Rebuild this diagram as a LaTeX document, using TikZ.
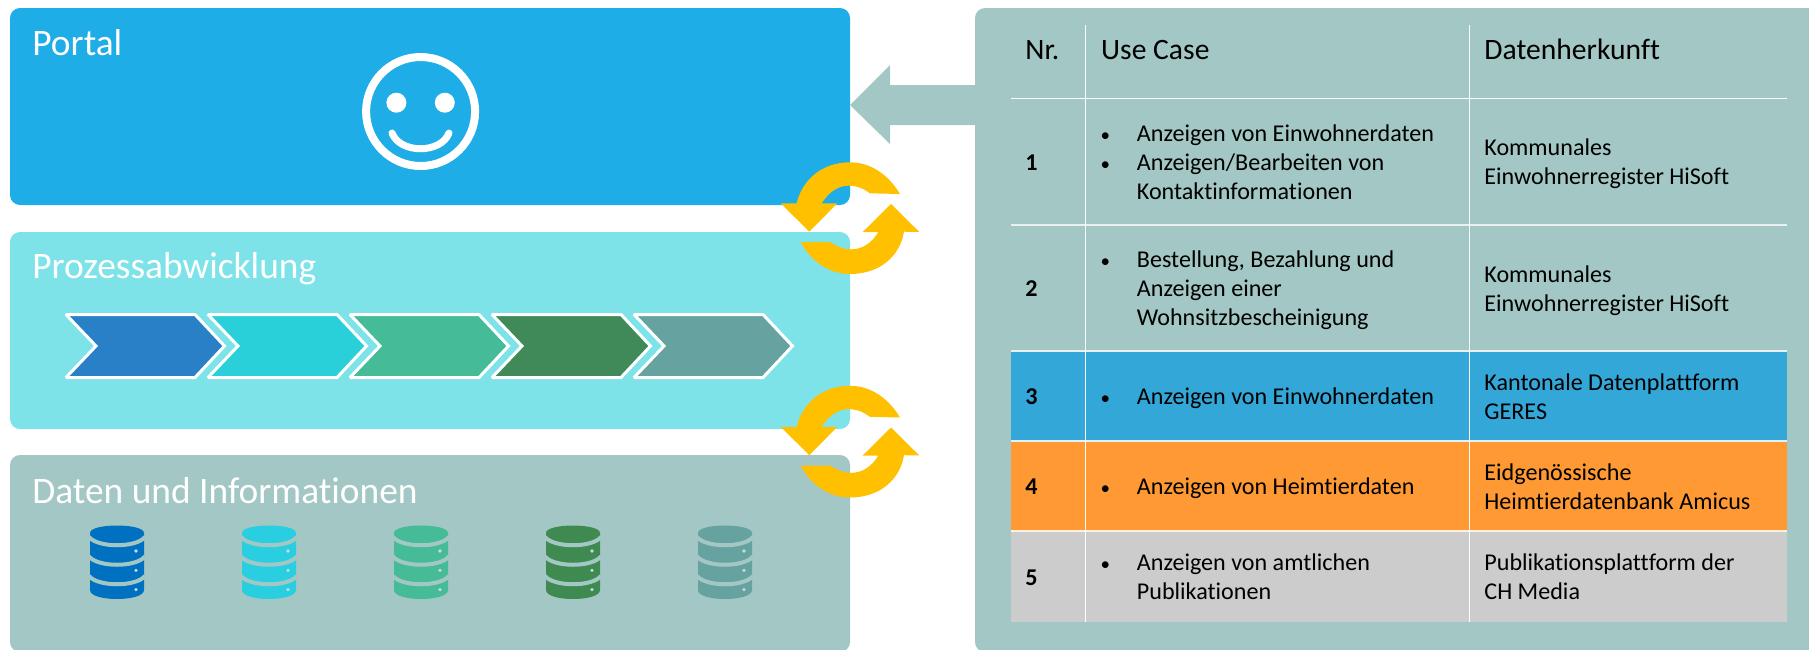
\documentclass[tikz,border=0pt]{standalone}
\usepackage{fontspec}
\setmainfont[Ligatures=NoCommon]{Carlito}
\definecolor{portalblue}{HTML}{1EADE6}
\definecolor{prozesscyan}{HTML}{7EE3E9}
\definecolor{datengrey}{HTML}{A3C7C4}
\definecolor{syncyellow}{HTML}{FFC000}
\definecolor{rowblue}{HTML}{33A7D8}
\definecolor{roworange}{HTML}{FF9933}
\definecolor{rowgrey}{HTML}{CCCCCC}
\tikzset{
	layerbox/.style={rounded corners=5pt},
	title/.style={anchor=base west,inner sep=0pt,text=white,font=\fontsize{18.7}{22}\selectfont},
	head/.style={anchor=base west,inner sep=0pt,font=\fontsize{14.8}{18}\selectfont},
	cell/.style={anchor=base west,inner sep=0pt,align=left,font=\fontsize{12.05}{14.5}\selectfont},
	nr/.style={anchor=base west,inner sep=0pt,font=\fontsize{12.05}{14.5}\selectfont\bfseries},
	grid/.style={draw=white,line width=0.5pt},
}
\newcommand{\bul}{\llap{{\fontsize{9.5}{9.5}\selectfont\textbullet}\hspace{13.4pt}}}
\begin{document}
\begin{tikzpicture}[x=0.5pt,y=-0.5pt]
	\useasboundingbox (0,0) rectangle (1809,649);
	% layers on the left
	\fill[layerbox,portalblue] (10,8) rectangle (850,205);
	\fill[layerbox,prozesscyan] (10,232) rectangle (850,429);
	\fill[layerbox,datengrey] (10,455) rectangle (850,652);
	\node[title] (portal) at (32,55) {Portal};
	\node[title] (prozess) at (32,278) {Prozessabwicklung};
	\node[title] (daten) at (32,503) {Daten und Informationen};
	% smiley
	\draw[white,line width=4pt] (420.6,111.5) circle (27.25pt);
	\fill[white] (396.4,102.7) circle (5pt) (444.8,102.7) circle (5pt);
	\draw[white,line width=3.5pt,line cap=round] (392,133) .. controls (400,154) and (441,154) .. (449,133);
	% process steps
	\foreach \i/\c in {0/2980C6,1/29CFD9,2/45BB98,3/3F8A58,4/66A3A0} {
		\definecolor{stepcolor}{HTML}{\c}
		\draw[white,line width=1.5pt,miter limit=2,fill=stepcolor,shift={(142*\i,0)}] (66,314.5) -- (195,314.5) -- (224.5,346) -- (195,377.5) -- (66,377.5) -- (96,346) -- cycle;
	}
	% data stores
	\foreach \i/\c in {0/0070C0,1/29CFE0,2/45BB98,3/3F8A50,4/66A3A0} {
		\definecolor{storecolor}{HTML}{\c}
		\begin{scope}[shift={(152*\i,0)}]
			\fill[storecolor] (90,533) .. controls (90,523) and (144,523) .. (144,533) -- (144,590) .. controls (144,602) and (90,602) .. (90,590) -- cycle;
			\foreach \y in {0,1,2} {
				\draw[datengrey,line width=2pt] (89,{537+19.5*\y}) .. controls (98,{548+19.5*\y}) and (136,{548+19.5*\y}) .. (145,{537+19.5*\y});
				\fill[datengrey!60!white] (136,{551+19.3*\y}) circle (0.9pt);
			}
		\end{scope}
	}
	% right panel with arrow
	\fill[datengrey,rounded corners=5pt] (975,8) -- (1825,8) -- (1825,652) -- (975,652) -- cycle;
	\fill[datengrey] (975,85) -- (890,85) -- (890,65) -- (850,105) -- (890,144) -- (890,125) -- (975,125) -- cycle;
	% sync arrows
	\foreach \s in {0,223.5} {
		\begin{scope}[shift={(0,\s)}]
			\fill[syncyellow] (900,194) .. controls (888,174) and (870,162.3) .. (850,162.3) .. controls (822,162.3) and (802,180) .. (796.7,203.3) -- (780.7,203.3) -- (809.3,231.7) -- (837.3,203.3) -- (821.7,203.3) .. controls (830,190) and (840,185.7) .. (848.3,185.7) .. controls (858,185.7) and (864,189) .. (870,193.3) -- cycle;
			\fill[syncyellow] (800.7,242) .. controls (811,262) and (830,274) .. (850,274) .. controls (880,274) and (900,256) .. (904,231.7) -- (919.3,232) -- (891,204) -- (862.7,232) -- (878.3,232) .. controls (872,243) and (862,249.3) .. (851.7,249.3) .. controls (843,249.3) and (836,246) .. (830,242) -- cycle;
		\end{scope}
	}
	% table
	\fill[rowblue] (1011,351) rectangle (1787,441);
	\fill[roworange] (1011,441) rectangle (1787,531);
	\fill[rowgrey] (1011,531) rectangle (1787,622);
	\draw[grid] (1011,98.5) -- (1787,98.5);
	\draw[grid,line width=0.8pt,white!75!datengrey] (1011,225) -- (1787,225);
	\draw[grid,line width=0.8pt,white!75!datengrey] (1011,351) -- (1787,351);
	\draw[grid,line width=0.8pt,white!85!rowblue] (1011,441) -- (1787,441);
	\draw[grid,line width=0.8pt,white!85!roworange] (1011,531) -- (1787,531);
	\draw[grid] (1085.6,25) -- (1085.6,622);
	\draw[grid] (1469.5,25) -- (1469.5,622);
	\node[head] (hnr) at (1025,59) {Nr.};
	\node[head] (huse) at (1100.8,59) {Use Case};
	\node[head] (hdaten) at (1484,59) {Datenherkunft};
	\node[nr] (nr1) at (1025,170) {1};
	\node[nr] (nr2) at (1025,296) {2};
	\node[nr] (nr3) at (1025,404) {3};
	\node[nr] (nr4) at (1025,494) {4};
	\node[nr] (nr5) at (1025,585) {5};
	\node[cell] (use1) at (1136.5,199) {\bul Anzeigen von Einwohnerdaten\\\bul Anzeigen/Bearbeiten von\\Kontaktinformationen};
	\node[cell] (use2) at (1136.5,325) {\bul Bestellung, Bezahlung und\\Anzeigen einer\\Wohnsitzbescheinigung};
	\node[cell] (use3) at (1136.5,404) {\bul Anzeigen von Einwohnerdaten};
	\node[cell] (use4) at (1136.5,494) {\bul Anzeigen von Heimtierdaten};
	\node[cell] (use5) at (1136.5,599) {\bul Anzeigen von amtlichen\\Publikationen};
	\node[cell] (src1) at (1484,184) {Kommunales\\Einwohnerregister HiSoft};
	\node[cell] (src2) at (1484,311) {Kommunales\\Einwohnerregister HiSoft};
	\node[cell] (src3) at (1484,419) {Kantonale Datenplattform\\GERES};
	\node[cell] (src4) at (1484,509) {Eidgenössische\\Heimtierdatenbank Amicus};
	\node[cell] (src5) at (1484,599) {Publikationsplattform der\\CH Media};
\end{tikzpicture}
\end{document}
